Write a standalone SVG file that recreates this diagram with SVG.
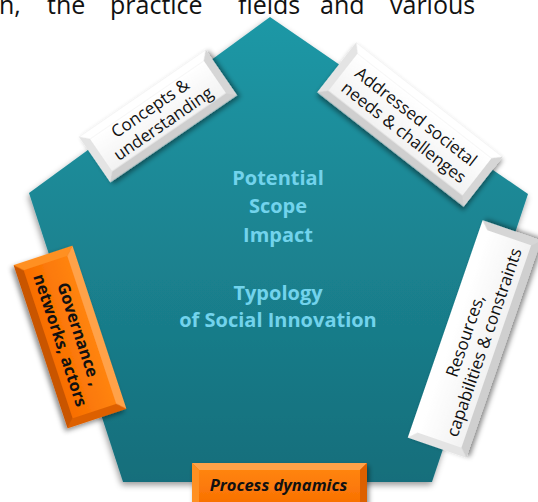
<svg xmlns="http://www.w3.org/2000/svg" width="538" height="502" viewBox="0 0 538 502">
<defs>
<linearGradient id="teal" x1="0" y1="0" x2="0" y2="1">
<stop offset="0" stop-color="#1f98a6"/>
<stop offset="1" stop-color="#166e7b"/>
</linearGradient>
<linearGradient id="wface" x1="0" y1="0" x2="0" y2="1">
<stop offset="0" stop-color="#ffffff"/>
<stop offset="1" stop-color="#f2f2f2"/>
</linearGradient>
<linearGradient id="oface" x1="0" y1="0" x2="0" y2="1">
<stop offset="0" stop-color="#ff8410"/>
<stop offset="1" stop-color="#f86e00"/>
</linearGradient>
<filter id="psh" x="-10%" y="-10%" width="120%" height="125%">
<feDropShadow dx="-1" dy="3" stdDeviation="3" flood-color="#000" flood-opacity="0.4"/>
</filter>
<filter id="bsh" x="-20%" y="-30%" width="140%" height="160%">
<feDropShadow dx="2" dy="3" stdDeviation="2.5" flood-color="#000" flood-opacity="0.45"/>
</filter>
</defs>
<style>
.top{font-family:"Open Sans","DejaVu Sans",sans-serif;font-size:25px;fill:#111}
.ctr{font-family:"Open Sans","DejaVu Sans",sans-serif;font-size:20px;font-weight:700;fill:#72d3ec;text-anchor:middle}
.lbl{font-family:"Open Sans","DejaVu Sans",sans-serif;font-size:17px;fill:#111;text-anchor:middle}
.lblb{font-family:"Open Sans","DejaVu Sans",sans-serif;font-size:16.5px;font-weight:700;fill:#111;text-anchor:middle}
.w .t{fill:#ffffff}.w .b{fill:#cfcfcf}.w .l{fill:#e4e4e4}.w .r{fill:#d6d6d6}.w .f{fill:url(#wface)}
.o .t{fill:#ffa24a}.o .b{fill:#c95400}.o .l{fill:#ff9020}.o .r{fill:#dd6000}.o .f{fill:url(#oface)}
</style>
<g id="page-text">
<text class="top" x="-1" y="14">n,</text>
<text class="top" x="47" y="14">the</text>
<text class="top" x="110" y="14">practice</text>
<text class="top" x="238" y="14">fields</text>
<text class="top" x="320" y="14">and</text>
<text class="top" x="390" y="14">various</text>
</g>
<g id="pentagon">
<polygon points="270,17 528,194 432,482 123,482 29,193" fill="url(#teal)" filter="url(#psh)"/>
<text class="ctr" x="278" y="185">Potential</text>
<text class="ctr" x="278" y="213">Scope</text>
<text class="ctr" x="278" y="242">Impact</text>
<text class="ctr" x="278" y="300">Typology</text>
<text class="ctr" x="278" y="327">of Social Innovation</text>
</g>
<g id="connectors"/>
<g id="concepts" class="w" transform="translate(158,116) rotate(-34.5)">
<g filter="url(#bsh)">
<rect x="-77" y="-27.5" width="154" height="55" fill="#ddd"/>
<polygon class="t" points="-77,-27.5 77,-27.5 69,-19.5 -69,-19.5"/>
<polygon class="b" points="-77,27.5 77,27.5 69,19.5 -69,19.5"/>
<polygon class="l" points="-77,-27.5 -69,-19.5 -69,19.5 -77,27.5"/>
<polygon class="r" points="77,-27.5 69,-19.5 69,19.5 77,27.5"/>
<rect class="f" x="-69" y="-19.5" width="138" height="39"/>
</g>
<text class="lbl" x="-2" y="-5">Concepts &amp;</text>
<text class="lbl" x="0" y="15">understanding</text>
</g>
<g id="addressed" class="w" transform="translate(410,124.5) rotate(38)">
<g filter="url(#bsh)">
<rect x="-93" y="-31.5" width="186" height="63" fill="#ddd"/>
<polygon class="t" points="-93,-31.5 93,-31.5 85,-23.5 -85,-23.5"/>
<polygon class="b" points="-93,31.5 93,31.5 85,23.5 -85,23.5"/>
<polygon class="l" points="-93,-31.5 -85,-23.5 -85,23.5 -93,31.5"/>
<polygon class="r" points="93,-31.5 85,-23.5 85,23.5 93,31.5"/>
<rect class="f" x="-85" y="-23.5" width="170" height="47"/>
</g>
<text class="lbl" x="0" y="-4">Addressed societal</text>
<text class="lbl" x="0" y="16">needs &amp; challenges</text>
</g>
<g id="resources" class="w" transform="translate(474.5,339) rotate(-71)">
<g filter="url(#bsh)">
<rect x="-115" y="-31" width="230" height="62" fill="#ddd"/>
<polygon class="t" points="-115,-31 115,-31 107,-23 -107,-23"/>
<polygon class="b" points="-115,31 115,31 107,23 -107,23"/>
<polygon class="l" points="-115,-31 -107,-23 -107,23 -115,31"/>
<polygon class="r" points="115,-31 107,-23 107,23 115,31"/>
<rect class="f" x="-107" y="-23" width="214" height="46"/>
</g>
<text class="lbl" x="0" y="-4">Resources,</text>
<text class="lbl" x="0" y="16">capabilities &amp; constraints</text>
</g>
<g id="governance" class="o" transform="translate(70,337) rotate(71.7)">
<g filter="url(#bsh)">
<rect x="-86" y="-31" width="172" height="62" fill="#e56a00"/>
<polygon class="t" points="-86,-31 86,-31 78,-23 -78,-23"/>
<polygon class="b" points="-86,31 86,31 78,23 -78,23"/>
<polygon class="l" points="-86,-31 -78,-23 -78,23 -86,31"/>
<polygon class="r" points="86,-31 78,-23 78,23 86,31"/>
<rect class="f" x="-78" y="-23" width="156" height="46"/>
</g>
<text class="lblb" x="0" y="-4">Governance ,</text>
<text class="lblb" x="0" y="16">networks, actors</text>
</g>
<g id="process" class="o" transform="translate(279.5,489)">
<g filter="url(#bsh)">
<rect x="-87.5" y="-26" width="175" height="52" fill="#e56a00"/>
<polygon class="t" points="-87.5,-26 87.5,-26 80.5,-19 -80.5,-19"/>
<polygon class="b" points="-87.5,26 87.5,26 80.5,19 -80.5,19"/>
<polygon class="l" points="-87.5,-26 -80.5,-19 -80.5,19 -87.5,26"/>
<polygon class="r" points="87.5,-26 80.5,-19 80.5,19 87.5,26"/>
<rect class="f" x="-80.5" y="-19" width="161" height="38"/>
</g>
<text class="lblb" x="-1" y="2" style="font-size:16.5px;font-style:italic">Process dynamics</text>
</g>
</svg>
